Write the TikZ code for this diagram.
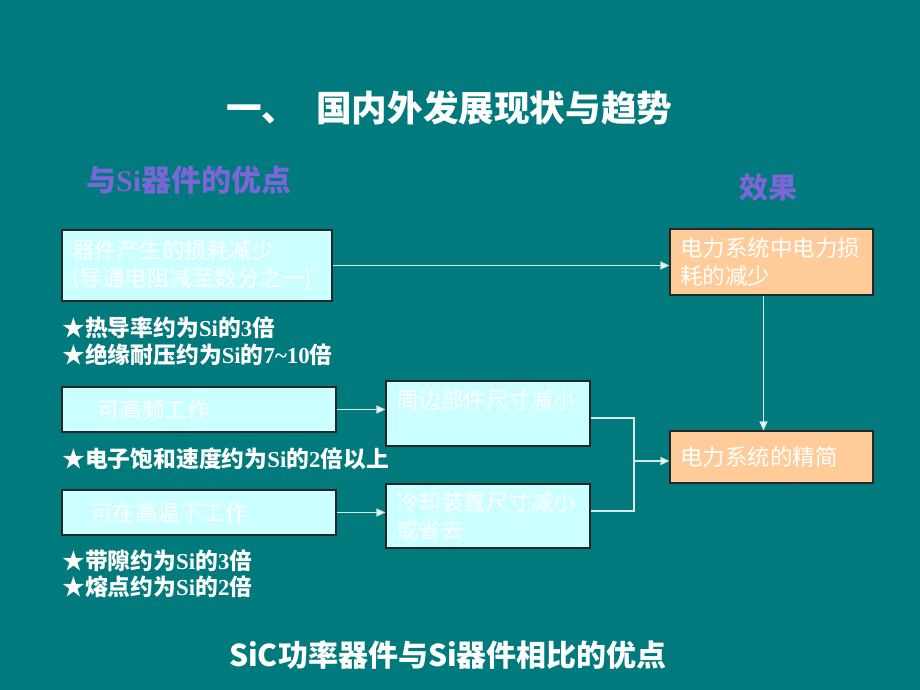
\documentclass[tikz,border=0pt]{standalone}
\usepackage{fontspec}
\setmainfont{Liberation Serif}
\newfontfamily\cjk{Noto Sans CJK SC}
\usetikzlibrary{arrows.meta}
\definecolor{bg}{RGB}{0,122,124}
\definecolor{cyanbox}{RGB}{204,255,255}
\definecolor{peach}{RGB}{255,204,153}
\definecolor{purp}{RGB}{122,102,214}
\definecolor{connc}{RGB}{215,232,232}
\newcommand\zh[1]{{\cjk #1}}
\begin{document}
\begin{tikzpicture}[x=1pt,y=-1pt,
  box/.style={draw=black!85, line width=1.2pt, inner xsep=10pt, inner ysep=0pt, text=white, align=left, font=\cjk\fontsize{22.5}{28}\selectfont},
  cbox/.style={box, fill=cyanbox},
  obox/.style={box, fill=peach},
  bullet/.style={anchor=west, inner sep=0pt, text=white, font=\bfseries\fontsize{22.8}{26}\selectfont},
  heading/.style={inner sep=0pt, text=purp, font=\bfseries\fontsize{30}{34}\selectfont},
  link/.style={draw=connc, line width=1.5pt},
  conn/.style={link, -{Triangle[length=9pt,width=8pt,fill=white]}}
]
\fill[bg] (0,0) rectangle (920,690);
\useasboundingbox (0,0) rectangle (920,690);

% title
\node[anchor=west, inner sep=0pt, text=white, font=\cjk\bfseries\fontsize{35.6}{40}\selectfont] (title) at (226,108) {一、\hspace{19pt}国内外发展现状与趋势};

% headings
\node[heading, anchor=west] (h1) at (86,180) {\zh{与}Si\zh{器件的优点}};
\node[heading, anchor=west, font=\cjk\bfseries\fontsize{29}{32}\selectfont] (h2) at (739,187) {效果};

% boxes
\node[cbox, minimum width=270, minimum height=71, text width=250] (A) at (197,265.5) {器件产生的损耗减少\\(导通电阻减至数分之一)};
\node[obox, minimum width=203, minimum height=66, text width=183] (B) at (771.5,262) {电力系统中电力损\\耗的减少};
\node[cbox, minimum width=274, minimum height=45, text width=254] (C) at (199,409.5) {\hspace*{25pt}可高频工作};
\node[cbox, minimum width=204, minimum height=65, text width=184] (D) at (488,413.5) {周边部件尺寸减小\\\mbox{}};
\node[cbox, minimum width=274, minimum height=45, text width=254] (E) at (199,512.5) {\hspace*{18pt}可在高温下工作};
\node[cbox, minimum width=204, minimum height=64, text width=184] (F) at (488,516) {冷却装置尺寸减小\\或省去};
\node[obox, minimum width=203, minimum height=52, text width=183] (G) at (771.5,457) {电力系统的精简};

% bullets
\node[bullet] (b1) at (62,328) {\zh{★热导率约为}Si\zh{的}3\zh{倍}};
\node[bullet] (b2) at (62,355) {\zh{★绝缘耐压约为}Si\zh{的}7\textasciitilde10\zh{倍}};
\node[bullet] (b3) at (62,459) {\zh{★电子饱和速度约为}Si\zh{的}2\zh{倍以上}};
\node[bullet] (b4) at (62,561) {\zh{★带隙约为}Si\zh{的}3\zh{倍}};
\node[bullet] (b5) at (62,587) {\zh{★熔点约为}Si\zh{的}2\zh{倍}};

% caption
\node[inner sep=0pt, text=white, font=\cjk\bfseries\fontsize{30}{34}\selectfont] (cap) at (448,655) {SiC功率器件与Si器件相比的优点};

% connectors
\draw[conn] (A.east) -- (A.east -| B.west);
\draw[conn] ([xshift=-8pt]B.south) -- ([xshift=-8pt]G.north);
\draw[conn] (C.east) -- (C.east -| D.west);
\draw[conn] (E.east) -- (E.east -| F.west);
\coordinate (jt) at (634,418);
\coordinate (jb) at (634,511);
\coordinate (jm) at (634,461);
\draw[link] (D.east |- jt) -- (jt) -- (jb) -- (F.east |- jb);
\draw[conn] (jm) -- (jm -| G.west);
\end{tikzpicture}
\end{document}
